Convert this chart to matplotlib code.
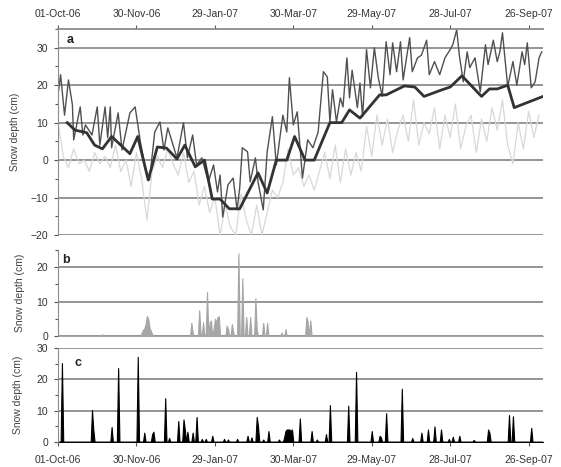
import numpy as np
import matplotlib
matplotlib.use('Agg')
import matplotlib.pyplot as plt
import matplotlib.dates as mdates
from matplotlib.ticker import MultipleLocator

plt.rcParams['font.family'] = ['Liberation Sans', 'DejaVu Sans']

START = np.datetime64('2006-10-01')
NDAYS = 372

# --- panel a: observed (dark), simulated (light), weekly mean (thick)
obs_days = [0, 2, 5, 8, 11, 12, 17, 19, 21, 26, 30, 32, 36, 38, 40, 41, 46, 49,
            55, 59, 63, 67, 70, 74, 78, 81, 84, 91, 96, 99, 103, 106, 110, 115,
            119, 122, 124, 126, 130, 134, 137, 139, 141, 145, 147, 151, 153, 157,
            160, 164, 167, 172, 175, 177, 180, 183, 187, 191, 195, 199, 203, 206,
            208, 210, 213, 216, 218, 221, 223, 225, 229, 231, 233, 236, 239, 242,
            245, 248, 251, 254, 256, 259, 262, 264, 269, 271, 275, 278, 282, 284,
            288, 292, 296, 300, 302, 305, 307, 310, 313, 315, 319, 323, 327, 329,
            333, 336, 338, 340, 344, 348, 351, 355, 357, 359, 362, 365, 368, 370]
obs_depth = [17.4, 22.8, 12, 21.4, 14.8, 5.4, 14.2, 6.7, 9.4, 6.7, 14.2, 4, 14.2,
             6, 14.2, 3.3, 12.6, 2.7, 12.6, 14.2, 4.9, -2.6, -5.3, 7.5, 10.2, 2.7,
             8.6, 0.6, 10, 0.6, 6.7, -1.3, 0.6, -5.8, -1.3, -8.5, -4, -15.2, -6.6,
             -4.8, -13.3, -7.4, 3.3, 2.2, -5.8, 0.6, -5.8, -13.3, 2.2, 11.6, -1.3,
             12, 7.5, 22, 9.4, 12.9, -4.8, 5.4, 3.3, 7.5, 23.6, 22.2, 10.2, 18.8,
             10.2, 16.6, 14.2, 27.3, 16.6, 24, 14, 20.6, 11.6, 29.5, 19.3, 30, 22,
             17, 31.6, 22.8, 31.3, 23.6, 31.6, 21.4, 32.7, 23.6, 27.3, 28, 32, 22.8,
             26.3, 22.8, 27.3, 29.5, 30.8, 34.8, 28, 20.9, 28.9, 24.7, 27.3, 18.2,
             30.8, 25.5, 32, 26.3, 28.9, 34, 19.6, 26.3, 20, 28.9, 25.5, 31.3, 19.3,
             20.9, 27.3, 28.9]

sim_days = [0, 4, 8, 12, 16, 20, 24, 28, 32, 36, 40, 44, 48, 52, 56, 60, 64, 68,
            72, 76, 80, 84, 88, 92, 96, 100, 104, 108, 112, 116, 120, 124, 128,
            132, 136, 140, 144, 148, 152, 156, 160, 164, 168, 172, 176, 180, 184,
            188, 192, 196, 200, 204, 208, 212, 216, 220, 224, 228, 232, 236, 240,
            244, 248, 252, 256, 260, 264, 268, 272, 276, 280, 284, 288, 292, 296,
            300, 304, 308, 312, 316, 320, 324, 328, 332, 336, 340, 344, 348, 352,
            356, 360, 364, 368]
sim_depth = [10, 1, -2, 3, -1, 0, -3, 2, -1, 1, -2, 4, -3, 0, -7, 2, -5, -16, -3,
             1, -2, 3, -1, -4, 2, -6, -3, -12, -7, -14, -10, -20, -12, -18, -20,
             -9, -16, -20, -12, -20, -14, -8, -10, -6, 3, -4, -2, -7, -4, -8, -3,
             2, -5, 4, -6, 3, -4, 2, -3, 9, 1, 12, 4, 11, 2, 8, 12, 5, 16, 4, 10, 7,
             14, 3, 12, 6, 15, 3, 9, 12, 2, 11, 5, 14, 8, 16, 4, -1, 10, 3, 13, 6,
             12]

mean_days = [7, 13, 22, 28, 34, 41, 55, 61, 69, 76, 83, 91, 97, 105, 112, 118, 124,
             131, 139, 153, 160, 167, 175, 181, 189, 196, 208, 217, 223, 231, 246,
             251, 265, 273, 280, 294, 300, 309, 324, 330, 336, 344, 349, 371]
mean_depth = [10, 8, 7.3, 4, 3, 6.3, 1.7, 6.3, -5.3, 3.5, 3.2, 0.3, 4, -1.8, 0,
              -10.4, -10.4, -13, -13, -3.4, -8.8, 0, 0, 6.3, 0, 0, 10, 10, 13.4,
              11.2, 17.4, 17.4, 19.8, 19.5, 17, 18.8, 19.5, 22.5, 17, 19, 19, 20,
              14, 17]

# --- panel b: gray spikes
b_days = [34, 64, 65, 66, 67, 68, 69, 70, 71, 72, 102, 103, 108, 109, 111, 114,
          116, 117, 119, 120, 121, 122, 123, 129, 130, 133, 134, 138, 141, 144,
          147, 151, 152, 157, 160, 171, 174, 190, 191, 193]
b_depth = [0.5, 1, 1.8, 2.2, 3.5, 5.8, 5, 2.5, 1.5, 0.5, 3.8, 1, 7.5, 1, 4, 12.8,
           4, 4.5, 2, 5, 4, 5.5, 5.7, 3, 2, 3.5, 1, 24, 16.8, 5.5, 5.5, 11, 2,
           3.8, 3.8, 1, 2, 5.5, 4, 4.5]

# --- panel c: black spikes
c_days = [3, 26, 27, 41, 46, 61, 66, 72, 73, 82, 85, 92, 96, 97, 99, 103, 106,
          110, 113, 118, 127, 130, 137, 145, 148, 152, 153, 157, 161, 169, 173,
          174, 175, 176, 177, 178, 179, 185, 194, 198, 205, 208, 222, 228, 240,
          246, 247, 251, 263, 271, 278, 283, 288, 293, 299, 302, 307, 318, 329,
          330, 345, 348, 362]
c_depth = [25.2, 10.2, 4, 4.8, 23.6, 27.2, 3, 2.5, 3.3, 14, 1.3, 6.7, 7.2, 4, 3.3,
           3, 8, 1, 1, 2, 1, 0.8, 1, 2, 1.5, 8, 5, 0.8, 3.5, 0.8, 1.5, 3.5, 4, 4,
           4, 3.5, 4, 7.5, 3.5, 0.8, 2.5, 11.8, 11.6, 22.4, 3.5, 2, 1.5, 9.2, 17,
           1.3, 3, 4, 5, 4, 1, 1.7, 2, 0.7, 4, 3, 8.6, 8.2, 4.5]

GRID = '#8c8c8c'


def to_dates(days):
    return START + np.array(days).astype('timedelta64[D]')


def daily(days, vals):
    out = np.zeros(NDAYS)
    out[np.array(days)] = vals
    return out


def style_axis(ax, ymin, ymax, label_x):
    ax.set_ylim(ymin, ymax)
    ax.set_xlim(START, START + np.timedelta64(NDAYS - 1, 'D'))
    ax.yaxis.set_major_locator(MultipleLocator(10))
    ax.yaxis.set_minor_locator(MultipleLocator(5))
    ax.yaxis.grid(True, color=GRID, linewidth=1.3)
    ax.set_axisbelow(True)
    for s in ['top', 'right', 'bottom']:
        ax.spines[s].set_visible(False)
    ax.spines['left'].set_color(GRID)
    ax.tick_params(axis='y', which='both', colors='#555555', labelcolor='#333333',
                   labelsize=7.5, length=3, width=0.8, pad=4)
    ax.tick_params(axis='y', which='minor', length=2)
    ax.set_ylabel('Snow depth (cm)', fontsize=7.5, color='#444444')
    ax.yaxis.set_label_coords(label_x, 0.5)
    ticks = to_dates([0, 60, 120, 180, 240, 300, 360])
    ax.set_xticks(ticks)
    ax.xaxis.set_major_formatter(mdates.DateFormatter('%d-%b-%y'))
    ax.tick_params(axis='x', colors='#555555', labelcolor='#333333',
                   labelsize=7.5, length=3, width=0.8)


fig = plt.figure(figsize=(5.61, 4.67), dpi=100)
ax_a = fig.add_axes([0.1034, 0.4968, 0.8645, 0.4411])
ax_b = fig.add_axes([0.1034, 0.2805, 0.8645, 0.1842])
ax_c = fig.add_axes([0.1034, 0.0535, 0.8645, 0.2013])

# panel a
ax_a.plot(to_dates(sim_days), sim_depth, color='#d8d8d8', linewidth=0.9)
ax_a.plot(to_dates(obs_days), obs_depth, color='#505050', linewidth=1.0)
ax_a.plot(to_dates(mean_days), mean_depth, color='#333333', linewidth=2.0)
style_axis(ax_a, -20, 35, -0.078)
ax_a.spines['top'].set_visible(True)
ax_a.spines['top'].set_color(GRID)
ax_a.spines['top'].set_linewidth(1.3)
ax_a.xaxis.tick_top()
ax_a.tick_params(axis='x', pad=4)
ax_a.text(0.018, 0.975, 'a', transform=ax_a.transAxes, fontsize=9,
          fontweight='bold', va='top', ha='left', color='#222222')

# panel b
dates = START + np.arange(NDAYS).astype('timedelta64[D]')
ax_b.fill_between(dates, 0, daily(b_days, b_depth), color='#a6a6a6',
                  linewidth=0.8, edgecolor='#a6a6a6')
style_axis(ax_b, 0, 25, -0.068)
ax_b.tick_params(axis='x', bottom=False, labelbottom=False)
ax_b.text(0.008, 0.95, 'b', transform=ax_b.transAxes, fontsize=9,
          fontweight='bold', va='top', ha='left', color='#222222')

# panel c
ax_c.fill_between(dates, 0, daily(c_days, c_depth), color='#000000',
                  linewidth=0.8, edgecolor='#000000')
style_axis(ax_c, 0, 30, -0.072)
ax_c.tick_params(axis='x', pad=6)
ax_c.text(0.035, 0.9, 'c', transform=ax_c.transAxes, fontsize=9,
          fontweight='bold', va='top', ha='left', color='#222222')

fig.savefig('out.png', dpi=100)
